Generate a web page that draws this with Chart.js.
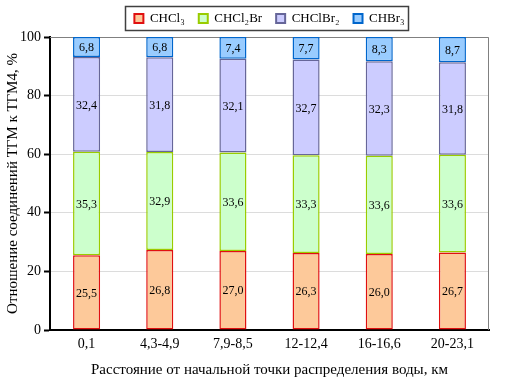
<!DOCTYPE html>
<html><head><meta charset="utf-8">
<script src="https://cdn.jsdelivr.net/npm/chart.js@4/dist/chart.umd.min.js"></script>
<style>html,body{margin:0;padding:0;background:#fff;}#wrap{width:507px;height:379px;}</style>
</head><body><div id="wrap"><canvas id="c" width="507" height="379"></canvas></div>
<script>
const categories = ['0,1', '4,3-4,9', '7,9-8,5', '12-12,4', '16-16,6', '20-23,1'];
const seriesNames = ['CHCl₃', 'CHCl₂Br', 'CHClBr₂', 'CHBr₃'];
const chcl3 = [25.5, 26.8, 27.0, 26.3, 26.0, 26.7];
const chcl2br = [35.3, 32.9, 33.6, 33.3, 33.6, 33.6];
const chclbr2 = [32.4, 31.8, 32.1, 32.7, 32.3, 31.8];
const chbr3 = [6.8, 6.8, 7.4, 7.7, 8.3, 8.7];
const yTicks = [0, 20, 40, 60, 80, 100];
const yTitle = 'Отношение соединений ТГМ к ТГМ4, %';
const xTitle = 'Расстояние от начальной точки распределения воды, км';

const raw = [chcl3, chcl2br, chclbr2, chbr3];
const fills = ['#FDC99A', '#CCFFCC', '#CCCCFF', '#99CCFF'];
const borders = ['#E01010', '#99CC00', '#666699', '#0066CC'];
const totals = categories.map((_, i) => raw.reduce((s, a) => s + a[i], 0));
const FONT = '"Liberation Serif", "Times New Roman", serif';

const datasets = raw.map((arr, k) => ({
  label: seriesNames[k],
  data: arr.map((v, i) => v / totals[i] * 100),
  rawValues: arr,
  backgroundColor: fills[k],
  borderColor: borders[k],
  borderWidth: 1.5,
  borderSkipped: false,
  categoryPercentage: 1,
  barPercentage: 0.37
}));

const frame = {
  id: 'frame',
  afterLayout(chart) {
    const lg = chart.legend;
    if (lg) { lg.top -= 2; lg.bottom -= 2; }
  },
  beforeDatasetsDraw(chart) {
    const a = chart.chartArea, ctx = chart.ctx;
    ctx.save();
    ctx.strokeStyle = '#808080';
    ctx.lineWidth = 1;
    ctx.beginPath();
    ctx.moveTo(a.left, a.top + 0.5);
    ctx.lineTo(a.right - 0.5, a.top + 0.5);
    ctx.lineTo(a.right - 0.5, a.bottom);
    ctx.stroke();
    ctx.restore();
  },
  afterDraw(chart) {
    const lg = chart.legend, ctx = chart.ctx;
    if (!lg || !lg.legendHitBoxes.length) return;
    const hb = lg.legendHitBoxes;
    const l = Math.min(...hb.map(b => b.left)) - 9;
    const r = Math.max(...hb.map(b => b.left + b.width)) + 4;
    const itemTop = lg.top + lg.options.labels.padding;
    const t = itemTop - 6;
    const btm = itemTop + hb[0].height + 5;
    ctx.save();
    ctx.strokeStyle = '#404040';
    ctx.lineWidth = 1.5;
    ctx.strokeRect(Math.round(l) + 0.5, Math.round(t) + 0.5, Math.round(r - l), Math.round(btm - t));
    ctx.restore();
  }
};

const labels = {
  id: 'vlabels',
  afterDatasetsDraw(chart) {
    const ctx = chart.ctx;
    ctx.save();
    ctx.font = '12px ' + FONT;
    ctx.fillStyle = '#000';
    ctx.textAlign = 'center';
    ctx.textBaseline = 'middle';
    chart.data.datasets.forEach((ds, k) => {
      chart.getDatasetMeta(k).data.forEach((el, i) => {
        const y = (el.y + el.base) / 2;
        ctx.fillText(ds.rawValues[i].toFixed(1).replace('.', ','), el.x, y + 1);
      });
    });
    ctx.restore();
  }
};

new Chart(document.getElementById('c'), {
  type: 'bar',
  data: { labels: categories, datasets },
  options: {
    responsive: false,
    animation: false,
    devicePixelRatio: 1,
    layout: { padding: { top: 0, right: 18, left: 0, bottom: 0 } },
    plugins: {
      tooltip: { enabled: false },
      legend: {
        position: 'top',
        fullSize: false,
        labels: {
          font: { family: FONT, size: 13 },
          color: '#000',
          boxWidth: 9,
          boxHeight: 9,
          padding: 14,
          generateLabels(chart) {
            return chart.data.datasets.map((ds, i) => ({
              text: ds.label,
              fillStyle: ds.backgroundColor,
              strokeStyle: ds.borderColor,
              lineWidth: 2,
              datasetIndex: i,
              fontColor: '#000'
            }));
          }
        }
      }
    },
    scales: {
      x: {
        stacked: true,
        grid: { display: false, drawTicks: false },
        border: { color: '#000', width: 2 },
        ticks: { font: { family: FONT, size: 14 }, color: '#000', padding: 6, maxRotation: 0 },
        title: { display: true, text: xTitle, font: { family: FONT, size: 15 }, color: '#000', padding: { top: 3, bottom: 0 } },
        afterFit(scale) { scale.height = 49; }
      },
      y: {
        stacked: true,
        min: 0, max: 100,
        afterBuildTicks(scale) { scale.ticks = yTicks.map(v => ({ value: v })); },
        grid: { color: '#DCDCDC', tickColor: '#000', tickLength: 6, lineWidth: 1, tickWidth: 2 },
        border: { color: '#000', width: 2 },
        ticks: { font: { family: FONT, size: 14 }, color: '#000', padding: 3 },
        title: { display: true, text: yTitle, font: { family: FONT, size: 15 }, color: '#000', padding: { top: 4, bottom: 0 } },
        afterFit(scale) { scale.width = 50; }
      }
    }
  },
  plugins: [frame, labels]
});
</script></body></html>
